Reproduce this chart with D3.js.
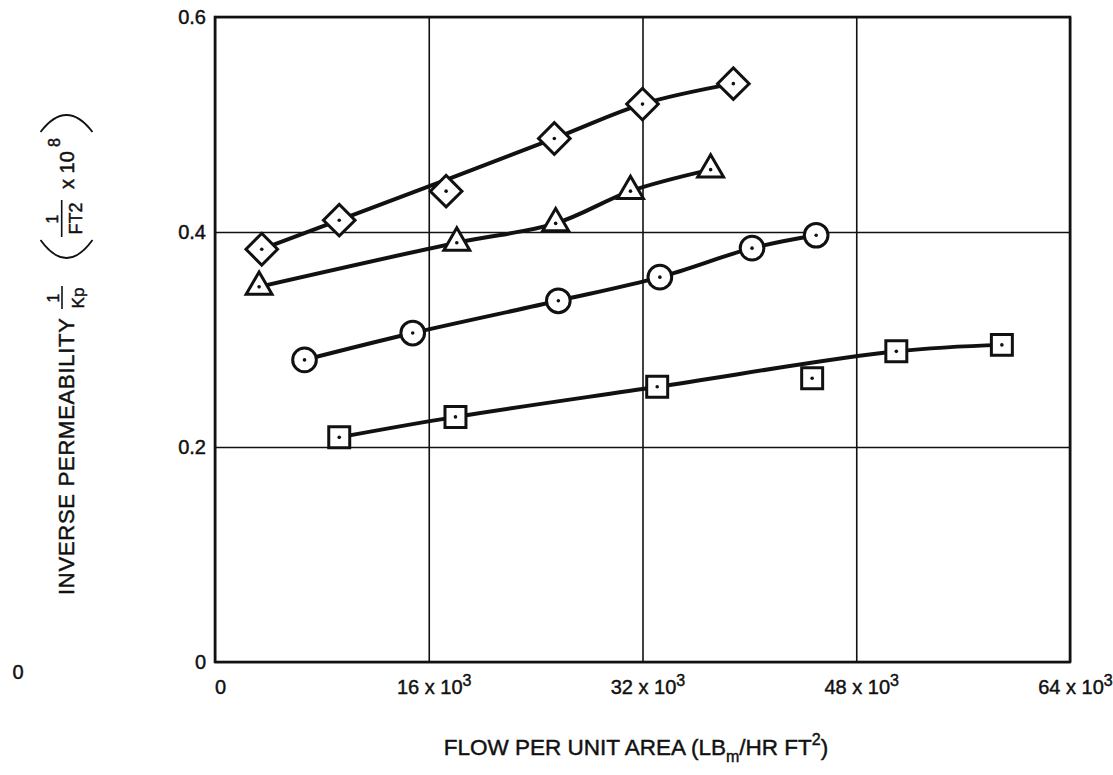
<!DOCTYPE html>
<html>
<head>
<meta charset="utf-8">
<script src="https://cdn.jsdelivr.net/npm/d3@7"></script>
<style>
	body { margin: 0; background: #fff; }
	svg text { font-family: 'Liberation Sans', Arial, Helvetica, sans-serif; fill: #111; stroke: #111; stroke-width: 0.45px; }
</style>
</head>
<body>
<div id="chart"></div>
<script>
// axis ticks
var xTicks = [0, 16, 32, 48, 64];
var xTickLabels = ['0', '16 x 10', '32 x 10', '48 x 10', '64 x 10'];
var xTickSup = ['', '3', '3', '3', '3'];
var yTicks = [0, 0.2, 0.4, 0.6];
var yTickLabels = ['0', '0.2', '0.4', '0.6'];

// flow in thousands of lb/hr ft2, inverse permeability (1/ft2 x 10^8)
var diamondX = [3.5, 9.3, 17.3, 25.4, 32.0, 38.8];
var diamondY = [0.384, 0.411, 0.438, 0.487, 0.519, 0.538];
var triangleX = [3.3, 18.1, 25.5, 31.1, 37.1];
var triangleY = [0.349, 0.390, 0.408, 0.438, 0.458];
var circleX = [6.7, 14.8, 25.7, 33.3, 40.2, 45.0];
var circleY = [0.281, 0.306, 0.336, 0.358, 0.385, 0.397];
var squareX = [9.3, 18.0, 33.1, 44.7, 51.0, 58.9];
var squareY = [0.209, 0.228, 0.256, 0.264, 0.289, 0.295];

// points the faired curve does not pass through
var diamondOff = [2];
var triangleOff = [];
var circleOff = [];
var squareOff = [3];

var series = [
	{ name: 'diamond', xs: diamondX, ys: diamondY, off: diamondOff },
	{ name: 'triangle', xs: triangleX, ys: triangleY, off: triangleOff },
	{ name: 'circle', xs: circleX, ys: circleY, off: circleOff },
	{ name: 'square', xs: squareX, ys: squareY, off: squareOff }
];

series.forEach(function(s) {
	s.points = s.xs.map(function(x, i) { return { x: x, y: s.ys[i], i: i }; });
});

var svg = d3.select('#chart').append('svg').attr('width', 1113).attr('height', 775);

var plotLeft = 215, plotRight = 1070, plotTop = 17, plotBottom = 662;

var xScale = d3.scaleLinear().domain([0, 64]).range([plotLeft, plotRight]);
var yScale = d3.scaleLinear().domain([0, 0.6]).range([plotBottom, plotTop]);

var xAxis = d3.axisBottom(xScale)
	.tickValues(xTicks)
	.tickSizeInner(-(plotBottom - plotTop))
	.tickSizeOuter(0)
	.tickPadding(18)
	.tickFormat(function(d, i) { return xTickLabels[i]; });

var yAxis = d3.axisLeft(yScale)
	.tickValues(yTicks)
	.tickSizeInner(-(plotRight - plotLeft))
	.tickSizeOuter(0)
	.tickPadding(9)
	.tickFormat(function(d, i) { return yTickLabels[i]; });

var xAxisG = svg.append('g')
	.attr('transform', 'translate(0,' + plotBottom + ')')
	.call(xAxis);

var yAxisG = svg.append('g')
	.attr('transform', 'translate(' + plotLeft + ',0)')
	.call(yAxis);

[xAxisG, yAxisG].forEach(function(g) {
	g.attr('font-size', 20).attr('font-family', null);
	g.select('.domain').remove();
	g.selectAll('.tick line').attr('stroke', '#111').attr('stroke-width', 1.6);
	g.selectAll('.tick text').attr('fill', '#111');
});

xAxisG.selectAll('.tick text')
	.attr('dx', 5)
	.each(function(d, i) {
		if (xTickSup[i]) {
			d3.select(this).append('tspan')
				.attr('font-size', 16)
				.attr('dy', '-0.5em')
				.text(xTickSup[i]);
		}
	});

yAxisG.selectAll('.tick text').attr('dy', '0.34em');

// frame
svg.append('rect')
	.attr('x', plotLeft)
	.attr('y', plotTop)
	.attr('width', plotRight - plotLeft)
	.attr('height', plotBottom - plotTop)
	.attr('fill', 'none')
	.attr('stroke', '#111')
	.attr('stroke-width', 2.6);

var line = d3.line()
	.x(function(d) { return xScale(d.x); })
	.y(function(d) { return yScale(d.y); })
	.curve(d3.curveCatmullRom.alpha(0.5));

series.forEach(function(s) {
	svg.append('path')
		.attr('d', line(s.points.filter(function(p) { return s.off.indexOf(p.i) < 0; })))
		.attr('fill', 'none')
		.attr('stroke', '#111')
		.attr('stroke-width', 4);
});

var symbols = {
	diamond: { type: d3.symbolSquare, size: 500, rotate: 45 },
	triangle: { type: d3.symbolTriangle, size: 290, rotate: 0 },
	circle: { type: d3.symbolCircle, size: 440, rotate: 0 },
	square: { type: d3.symbolSquare, size: 440, rotate: 0 }
};

series.forEach(function(s) {
	var sym = symbols[s.name];
	var g = svg.append('g').selectAll('g')
		.data(s.points)
		.join('g')
		.attr('transform', function(d) {
			return 'translate(' + xScale(d.x) + ',' + yScale(d.y) + ')';
		});

	g.append('path')
		.attr('d', d3.symbol().type(sym.type).size(sym.size)())
		.attr('transform', 'rotate(' + sym.rotate + ')')
		.attr('fill', '#fff')
		.attr('stroke', '#111')
		.attr('stroke-width', 3);

	g.append('circle')
		.attr('r', 1.8)
		.attr('fill', '#111');
});

// x axis title
var xTitle = svg.append('text')
	.attr('x', 636)
	.attr('y', 755)
	.attr('text-anchor', 'middle')
	.attr('font-size', 22.5);
xTitle.append('tspan').text('FLOW PER UNIT AREA (LB');
xTitle.append('tspan').attr('font-size', 16).attr('dy', 7).text('m');
xTitle.append('tspan').attr('dy', -7).text('/HR FT');
xTitle.append('tspan').attr('font-size', 16).attr('dy', -10).text('2');
xTitle.append('tspan').attr('dy', 10).text(')');

// y axis title, rotated
var yTitle = svg.append('g')
	.attr('transform', 'translate(73.5,595) rotate(-90)');

yTitle.append('text')
	.attr('x', 0)
	.attr('y', 0)
	.attr('font-size', 22)
	.attr('textLength', 277)
	.attr('lengthAdjust', 'spacing')
	.text('INVERSE PERMEABILITY');

yTitle.append('text')
	.attr('x', 297).attr('y', -15)
	.attr('text-anchor', 'middle')
	.attr('font-size', 16)
	.text('1');
yTitle.append('line')
	.attr('x1', 286).attr('x2', 309)
	.attr('y1', -11.5).attr('y2', -11.5)
	.attr('stroke', '#111').attr('stroke-width', 1.6);
yTitle.append('text')
	.attr('x', 297).attr('y', 10)
	.attr('text-anchor', 'middle')
	.attr('font-size', 17)
	.text('Kp');

yTitle.append('path')
	.attr('d', 'M355,-33 Q319,-7 355,19')
	.attr('fill', 'none')
	.attr('stroke', '#111')
	.attr('stroke-width', 1.8);

yTitle.append('text')
	.attr('x', 376).attr('y', -15.5)
	.attr('text-anchor', 'middle')
	.attr('font-size', 16)
	.text('1');
yTitle.append('line')
	.attr('x1', 358).attr('x2', 395)
	.attr('y1', -11.8).attr('y2', -11.8)
	.attr('stroke', '#111').attr('stroke-width', 1.6);
yTitle.append('text')
	.attr('x', 376.5).attr('y', 8.5)
	.attr('text-anchor', 'middle')
	.attr('font-size', 18)
	.text('FT2');

yTitle.append('text')
	.attr('x', 406).attr('y', 0)
	.attr('font-size', 20)
	.text('x 10');
yTitle.append('text')
	.attr('x', 448).attr('y', -14)
	.attr('font-size', 16)
	.text('8');

yTitle.append('path')
	.attr('d', 'M463,-33 Q497,-7 463,19')
	.attr('fill', 'none')
	.attr('stroke', '#111')
	.attr('stroke-width', 1.8);

// stray zero at lower left
svg.append('text')
	.attr('x', 18)
	.attr('y', 679)
	.attr('text-anchor', 'middle')
	.attr('font-size', 20)
	.text('0');
</script>
</body>
</html>
